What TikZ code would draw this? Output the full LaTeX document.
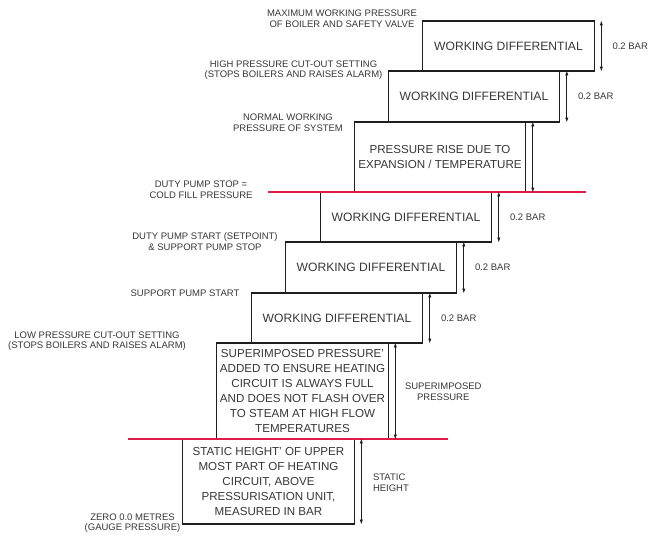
\documentclass[tikz,border=0pt]{standalone}
\usepackage{fontspec}
\setmainfont{Liberation Sans}
\usetikzlibrary{arrows.meta}
\definecolor{txt}{RGB}{55,55,55}
\definecolor{edge}{RGB}{30,30,30}
\definecolor{redl}{RGB}{222,28,72}
\tikzset{
  box/.style={draw=edge, line width=1.1pt, fill=white, inner sep=0pt, align=center,
    text=txt, font=\fontsize{11.6}{15}\selectfont, minimum width=171.5pt},
  wdbox/.style={box, font=\fontsize{12.1}{15}\selectfont},
  lbl/.style={text=txt, align=center, inner sep=0pt, font=\fontsize{9.5}{10.6}\selectfont},
  dim/.style={draw=edge, line width=0.9pt, {Latex[length=5pt,width=3.4pt]}-{Latex[length=5pt,width=3.4pt]}},
  redline/.style={draw=redl, line width=1.4pt}
}
\begin{document}
\begin{tikzpicture}[x=1pt,y=-1pt]
\useasboundingbox (0,0) rectangle (656,536);
% boxes
\node[wdbox, minimum height=50pt] (b1) at (508.5,46) {WORKING DIFFERENTIAL};
\node[wdbox, minimum height=51pt] (b2) at (474,96.5) {WORKING DIFFERENTIAL};
\node[box, minimum height=70pt] (b3) at (440,157) {PRESSURE RISE DUE TO\\EXPANSION / TEMPERATURE};
\node[wdbox, minimum height=50pt] (b4) at (406,217) {WORKING DIFFERENTIAL};
\node[wdbox, minimum height=51pt] (b5) at (371,267.5) {WORKING DIFFERENTIAL};
\node[wdbox, minimum height=50pt] (b6) at (337,318) {WORKING DIFFERENTIAL};
\node[box, minimum height=96pt] (b7) at (302.5,391) {SUPERIMPOSED PRESSURE'\\ADDED TO ENSURE HEATING\\CIRCUIT IS ALWAYS FULL\\AND DOES NOT FLASH OVER\\TO STEAM AT HIGH FLOW\\TEMPERATURES};
\node[box, minimum height=85pt] (b8) at (268.5,481.5) {STATIC HEIGHT' OF UPPER\\MOST PART OF HEATING\\CIRCUIT, ABOVE\\PRESSURISATION UNIT,\\MEASURED IN BAR};
% red lines
\coordinate (r1a) at (268,192);
\coordinate (r1b) at (586,192);
\coordinate (r2a) at (128,439);
\coordinate (r2b) at (448,439);
\draw[redline] (r1a) -- (r1b);
\draw[redline] (r2a) -- (r2b);
% dimension arrows
\foreach \b in {b1,b2,b3,b4,b5,b6,b7,b8}{
  \draw[dim] ([xshift=6.5pt]\b.north east) -- ([xshift=6.5pt]\b.south east);
}
% right labels
\node[lbl, anchor=west] (v1) at ([xshift=17.5pt]b1.east) {0.2 BAR};
\node[lbl, anchor=west] (v2) at ([xshift=17.5pt]b2.east) {0.2 BAR};
\node[lbl, anchor=west] (v4) at ([xshift=17.5pt]b4.east) {0.2 BAR};
\node[lbl, anchor=west] (v5) at ([xshift=17.5pt]b5.east) {0.2 BAR};
\node[lbl, anchor=west] (v6) at ([xshift=17.5pt]b6.east) {0.2 BAR};
\node[lbl, anchor=west] (v7) at ([xshift=16pt,yshift=-1pt]b7.east) {SUPERIMPOSED\\PRESSURE};
\node[lbl, anchor=west, align=left] (v8) at ([xshift=18pt,yshift=-1.5pt]b8.east) {STATIC\\HEIGHT};
% left labels
\node[lbl] (l1) at (342,19) {MAXIMUM WORKING PRESSURE\\OF BOILER AND SAFETY VALVE};
\node[lbl] (l2) at (293.5,70) {HIGH PRESSURE CUT-OUT SETTING\\(STOPS BOILERS AND RAISES ALARM)};
\node[lbl] (l3) at (288,122.5) {NORMAL WORKING\\PRESSURE OF SYSTEM};
\node[lbl] (l4) at (201,190) {DUTY PUMP STOP =\\COLD FILL PRESSURE};
\node[lbl] (l5) at (205,241.7) {DUTY PUMP START (SETPOINT)\\\& SUPPORT PUMP STOP};
\node[lbl] (l6) at (185,293.7) {SUPPORT PUMP START};
\node[lbl] (l7) at (97,341) {LOW PRESSURE CUT-OUT SETTING\\(STOPS BOILERS AND RAISES ALARM)};
\node[lbl] (l8) at (132.5,523) {ZERO 0.0 METRES\\(GAUGE PRESSURE)};
\end{tikzpicture}
\end{document}
